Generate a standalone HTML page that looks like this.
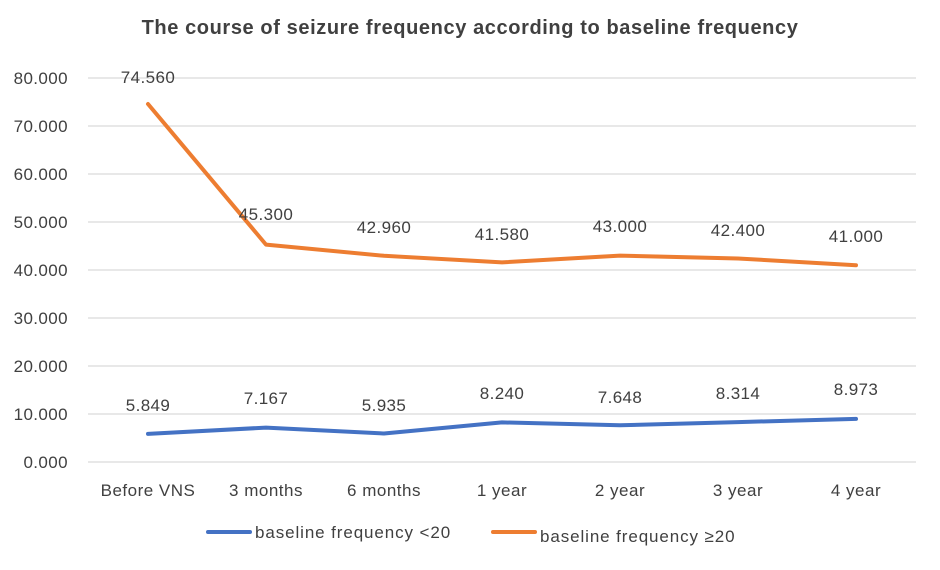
<!DOCTYPE html><html><head><style>body{margin:0;background:#fff}svg text{font-family:"Liberation Sans","Noto Sans CJK KR",sans-serif}</style></head><body>
<svg width="940" height="565" xmlns="http://www.w3.org/2000/svg">
<rect width="940" height="565" fill="#fff"/>
<text x="470" y="34" text-anchor="middle" font-size="20" font-weight="bold" fill="#404040" letter-spacing="0.6">The course of seizure frequency according to baseline frequency</text>
<g stroke="#d9d9d9" stroke-width="1.3">
<line x1="88" x2="916" y1="78" y2="78"/><line x1="88" x2="916" y1="126" y2="126"/><line x1="88" x2="916" y1="174" y2="174"/><line x1="88" x2="916" y1="222" y2="222"/><line x1="88" x2="916" y1="270" y2="270"/><line x1="88" x2="916" y1="318" y2="318"/><line x1="88" x2="916" y1="366" y2="366"/><line x1="88" x2="916" y1="414" y2="414"/><line x1="88" x2="916" y1="462" y2="462"/>
</g>
<g font-size="17" fill="#404040" text-anchor="end" letter-spacing="0.4">
<text x="68" y="84">80.000</text><text x="68" y="132">70.000</text><text x="68" y="180">60.000</text><text x="68" y="228">50.000</text><text x="68" y="276">40.000</text><text x="68" y="324">30.000</text><text x="68" y="372">20.000</text><text x="68" y="420">10.000</text><text x="68" y="468">0.000</text>
</g>
<g font-size="17" fill="#404040" text-anchor="middle" letter-spacing="0.5">
<text x="148" y="496">Before VNS</text><text x="266" y="496">3 months</text><text x="384" y="496">6 months</text><text x="502" y="496">1 year</text><text x="620" y="496">2 year</text><text x="738" y="496">3 year</text><text x="856" y="496">4 year</text>
</g>
<polyline fill="none" stroke="#ed7d31" stroke-width="4" stroke-linejoin="round" stroke-linecap="round" points="148,104 266,244.6 384,255.8 502,262.4 620,255.6 738,258.5 856,265.2"/>
<polyline fill="none" stroke="#4472c4" stroke-width="4" stroke-linejoin="round" stroke-linecap="round" points="148,433.9 266,427.6 384,433.5 502,422.4 620,425.3 738,422.1 856,418.9"/>
<g font-size="17" fill="#404040" text-anchor="middle" letter-spacing="0.4">
<text x="148" y="83">74.560</text><text x="266" y="220">45.300</text><text x="384" y="233">42.960</text><text x="502" y="240">41.580</text><text x="620" y="232">43.000</text><text x="738" y="236">42.400</text><text x="856" y="242">41.000</text>
<text x="148" y="411">5.849</text><text x="266" y="404">7.167</text><text x="384" y="411">5.935</text><text x="502" y="399">8.240</text><text x="620" y="403">7.648</text><text x="738" y="399">8.314</text><text x="856" y="395">8.973</text>
</g>
<line x1="208" x2="250" y1="532" y2="532" stroke="#4472c4" stroke-width="4" stroke-linecap="round"/>
<text x="255" y="538" font-size="17" fill="#404040" letter-spacing="0.9">baseline frequency &lt;20</text>
<line x1="493" x2="535" y1="532" y2="532" stroke="#ed7d31" stroke-width="4" stroke-linecap="round"/>
<text x="540" y="542" font-size="17" fill="#404040" letter-spacing="0.9">baseline frequency ≥20</text>
</svg></body></html>
